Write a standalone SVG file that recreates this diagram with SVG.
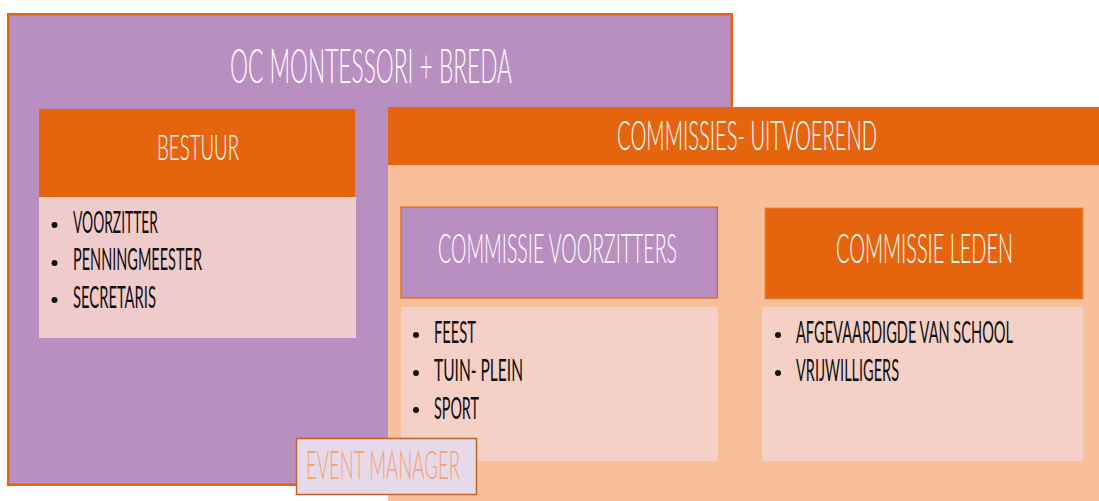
<svg xmlns="http://www.w3.org/2000/svg" width="1099" height="501" viewBox="0 0 1099 501">
  <style>
    .hd { font-family: Lato, "Open Sans", "Liberation Sans", sans-serif; font-weight: 300; fill: #FFFFFF; }
    .li { font-family: Lato, "Open Sans", "Liberation Sans", sans-serif; font-weight: 400; font-size: 30px; fill: #111111; }
    .ev { font-family: Lato, "Open Sans", "Liberation Sans", sans-serif; font-weight: 300; font-size: 39px; fill: #F5A26B; }
    .purple { fill: #B98EC1; }
    .orange { fill: #E5650F; }
    .bul { fill: #111111; }
  </style>
  <rect width="1099" height="501" fill="#FFFFFF"/>

  <g id="oc-montessori">
    <rect x="8.25" y="14.25" width="723.5" height="470.5" class="purple" stroke="#E5650F" stroke-width="2.5"/>
    <text class="hd" transform="translate(230,83) scale(0.55,1)" x="0" y="0" font-size="47" textLength="512.7" lengthAdjust="spacingAndGlyphs">OC MONTESSORI + BREDA</text>
  </g>

  <g id="bestuur">
    <rect x="39" y="109" width="316" height="88" class="orange"/>
    <text class="hd" transform="translate(157,160) scale(0.55,1)" x="0" y="0" font-size="36" textLength="149.1" lengthAdjust="spacingAndGlyphs">BESTUUR</text>
    <rect x="39" y="197" width="317" height="141" fill="#F0CBCB"/>
    <circle cx="54.5" cy="225" r="3" class="bul"/>
    <circle cx="54.5" cy="263" r="3" class="bul"/>
    <circle cx="54.5" cy="300" r="3" class="bul"/>
    <text class="li" transform="translate(73,233) scale(0.55,1)" x="0" y="0" textLength="154.5" lengthAdjust="spacingAndGlyphs">VOORZITTER</text>
    <text class="li" transform="translate(73,270) scale(0.55,1)" x="0" y="0" textLength="234.5" lengthAdjust="spacingAndGlyphs">PENNINGMEESTER</text>
    <text class="li" transform="translate(73,308) scale(0.55,1)" x="0" y="0" textLength="150.9" lengthAdjust="spacingAndGlyphs">SECRETARIS</text>
  </g>

  <g id="commissies">
    <rect x="388" y="165" width="711" height="336" fill="#F8C09A"/>
    <rect x="388" y="107" width="711" height="58" class="orange"/>
    <text class="hd" transform="translate(617,150) scale(0.55,1)" x="0" y="0" font-size="42" textLength="472.7" lengthAdjust="spacingAndGlyphs">COMMISSIES- UITVOEREND</text>
  </g>

  <g id="commissie-voorzitters">
    <rect x="401" y="207" width="316.5" height="91" class="purple" stroke="#E5650F" stroke-width="1.2"/>
    <text class="hd" transform="translate(438,263) scale(0.55,1)" x="0" y="0" font-size="42" textLength="434.5" lengthAdjust="spacingAndGlyphs">COMMISSIE VOORZITTERS</text>
    <rect x="401" y="307" width="317" height="154" fill="#F5D0C6"/>
    <circle cx="416" cy="335" r="3" class="bul"/>
    <circle cx="416" cy="373" r="3" class="bul"/>
    <circle cx="416" cy="410" r="3" class="bul"/>
    <text class="li" transform="translate(434,343) scale(0.55,1)" x="0" y="0" textLength="76.4" lengthAdjust="spacingAndGlyphs">FEEST</text>
    <text class="li" transform="translate(434,381) scale(0.55,1)" x="0" y="0" textLength="161.8" lengthAdjust="spacingAndGlyphs">TUIN- PLEIN</text>
    <text class="li" transform="translate(434,419) scale(0.55,1)" x="0" y="0" textLength="81.8" lengthAdjust="spacingAndGlyphs">SPORT</text>
  </g>

  <g id="commissie-leden">
    <rect x="765" y="208" width="318" height="91" class="orange" stroke="#F08A4A" stroke-width="1"/>
    <text class="hd" transform="translate(836,263) scale(0.55,1)" x="0" y="0" font-size="42" textLength="321.8" lengthAdjust="spacingAndGlyphs">COMMISSIE LEDEN</text>
    <rect x="762" y="307" width="321" height="154" fill="#F5D0C6"/>
    <circle cx="778" cy="335" r="3" class="bul"/>
    <circle cx="778" cy="373" r="3" class="bul"/>
    <text class="li" transform="translate(796,343) scale(0.55,1)" x="0" y="0" textLength="394.5" lengthAdjust="spacingAndGlyphs">AFGEVAARDIGDE VAN SCHOOL</text>
    <text class="li" transform="translate(796,381) scale(0.55,1)" x="0" y="0" textLength="187.3" lengthAdjust="spacingAndGlyphs">VRIJWILLIGERS</text>
  </g>

  <g id="event-manager">
    <rect x="296.5" y="438.5" width="180" height="56" fill="#E6D9EA" stroke="#C0622A" stroke-width="1.5"/>
    <text class="ev" transform="translate(306,479) scale(0.55,1)" x="0" y="0" textLength="280" lengthAdjust="spacingAndGlyphs">EVENT MANAGER</text>
  </g>

  <g id="connectors"></g>
</svg>
